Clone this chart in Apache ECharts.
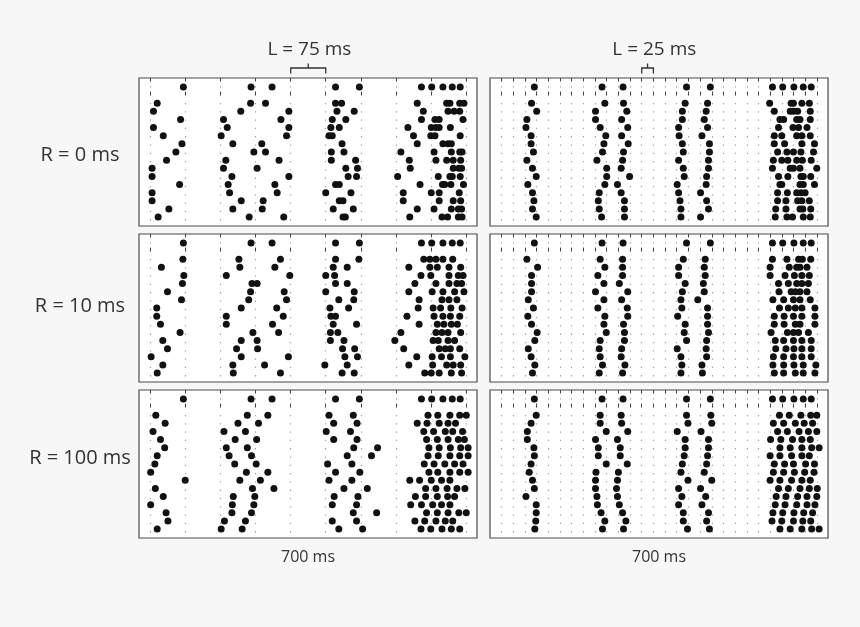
<!DOCTYPE html>
<html>
<head>
<meta charset="utf-8">
<script src="https://cdn.jsdelivr.net/npm/echarts@6/dist/echarts.min.js"></script>
<style>
  html, body { margin: 0; padding: 0; background: #f7f7f7; }
  #chart { width: 860px; height: 627px; }
</style>
</head>
<body>
<div id="chart"></div>
<script>
// ---- data (times in ms) ----
const rowLabels = ['R = 0 ms', 'R = 10 ms', 'R = 100 ms'];
const colTitles = ['L = 75 ms', 'L = 25 ms'];
const binWidths = [75, 25];
const axisName = '700 ms';
const template = [95, 240, 285, 421, 472, 605, 627, 651, 671, 688];

const trialsL75R0 = [
  [39, 239, 271, 421, 434, 596, 659, 666, 687, 696],
  [31, 218, 321, 424, 461, 609, 662, 675, 687],
  [89, 181, 304, 414, 443, 605, 634, 643, 694],
  [31, 189, 321, 411, 429, 576, 626, 636, 643, 667],
  [52, 176, 316, 407, 414, 588, 625, 634, 688],
  [92, 201, 263, 435, 596, 651, 662, 669],
  [79, 246, 271, 412, 439, 561, 632, 669, 687, 692],
  [59, 186, 300, 412, 464, 579, 636, 659, 673, 689],
  [28, 181, 253, 443, 468, 581, 673, 685, 691],
  [28, 199, 321, 448, 466, 554, 641, 666, 671, 688],
  [87, 191, 291, 421, 429, 602, 650, 655, 668, 695],
  [28, 194, 296, 400, 454, 566, 626, 643, 686],
  [28, 219, 266, 429, 437, 566, 643, 673, 689],
  [64, 201, 264, 416, 459, 596, 632, 669, 684, 691],
  [41, 236, 310, 437, 442, 580, 649, 661, 684, 692]
];
const trialsL25R0 = [
  [89, 246, 286, 418, 466, 599, 645, 650, 668, 684],
  [100, 226, 293, 412, 463, 609, 643, 650, 659, 686],
  [79, 226, 282, 412, 459, 621, 629, 657, 664, 686],
  [77, 236, 295, 404, 466, 618, 649, 661, 679],
  [88, 248, 282, 405, 454, 609, 625, 657, 668, 686],
  [88, 244, 296, 412, 470, 609, 631, 668, 695],
  [93, 241, 286, 414, 470, 616, 636, 650, 666, 693],
  [79, 229, 284, 404, 468, 607, 625, 638, 657, 669, 688],
  [91, 250, 281, 414, 468, 605, 643, 650, 664, 700],
  [99, 250, 299, 416, 464, 618, 638, 666, 671, 687],
  [81, 246, 273, 401, 463, 621, 625, 664, 671, 695],
  [91, 234, 281, 404, 451, 616, 637, 657, 666, 675],
  [94, 232, 288, 407, 464, 616, 634, 659, 668, 684],
  [91, 234, 288, 409, 468, 612, 634, 664, 670, 687],
  [99, 239, 288, 409, 451, 611, 636, 648, 671, 686]
];
const trialsL75R10 = [
  [94, 214, 303, 421, 471, 610, 623, 636, 651, 672],
  [48, 216, 291, 416, 446, 578, 623, 639, 664, 689],
  [96, 187, 323, 400, 419, 604, 625, 664, 684, 694],
  [93, 242, 253, 421, 446, 591, 636, 664, 681, 691],
  [61, 239, 311, 400, 461, 578, 628, 651, 676, 696],
  [91, 235, 316, 428, 460, 600, 649, 664, 681],
  [38, 219, 295, 409, 449, 598, 630, 646, 668, 692],
  [38, 187, 309, 411, 421, 574, 632, 651, 667, 687],
  [46, 187, 286, 416, 466, 600, 639, 653, 669, 682],
  [88, 244, 299, 410, 426, 561, 636, 649, 662, 689],
  [51, 219, 253, 410, 439, 548, 630, 641, 662, 676],
  [61, 209, 254, 436, 462, 567, 643, 656, 667, 687],
  [26, 219, 320, 441, 468, 595, 628, 648, 667, 698],
  [51, 201, 269, 398, 446, 578, 629, 659, 673, 689],
  [39, 202, 303, 435, 461, 612, 626, 643, 669, 691]
];
const trialsL25R10 = [
  [79, 236, 284, 414, 461, 605, 636, 661, 669, 687],
  [102, 246, 284, 404, 459, 600, 641, 657, 664, 679],
  [89, 231, 284, 404, 461, 600, 632, 652, 668, 684],
  [89, 244, 277, 418, 457, 618, 639, 657, 668, 682],
  [89, 226, 295, 412, 459, 619, 645, 654, 664, 679],
  [82, 244, 282, 409, 445, 606, 629, 650, 664, 686],
  [93, 231, 294, 411, 466, 620, 639, 654, 668, 696],
  [81, 246, 295, 402, 466, 609, 630, 650, 668, 696],
  [89, 244, 286, 418, 466, 609, 630, 654, 664, 696],
  [101, 249, 288, 416, 468, 602, 637, 650, 661, 682],
  [96, 236, 288, 421, 464, 611, 629, 650, 668, 688],
  [82, 234, 282, 401, 463, 612, 634, 651, 668, 688],
  [88, 236, 281, 409, 464, 607, 629, 650, 668, 688],
  [96, 241, 289, 411, 454, 606, 629, 651, 671, 698],
  [91, 234, 284, 409, 455, 609, 629, 654, 671, 696]
];
const trialsL75R100 = [
  [36, 232, 276, 407, 459, 619, 640, 666, 687, 701],
  [56, 212, 256, 417, 467, 596, 617, 643, 662, 678],
  [30, 182, 228, 401, 453, 610, 631, 656, 672, 693],
  [46, 206, 252, 417, 467, 616, 639, 662, 684, 697],
  [55, 187, 232, 460, 511, 621, 643, 667, 689, 705],
  [39, 193, 241, 446, 498, 619, 641, 666, 687, 705],
  [34, 205, 251, 404, 456, 611, 632, 655, 676, 694],
  [25, 230, 276, 421, 473, 621, 640, 666, 687, 705],
  [99, 216, 260, 407, 456, 580, 601, 626, 648, 666],
  [35, 243, 289, 439, 489, 614, 636, 660, 681, 698],
  [52, 202, 248, 418, 469, 592, 614, 639, 661, 676],
  [25, 200, 246, 414, 466, 582, 605, 629, 648, 666],
  [58, 199, 241, 459, 509, 616, 639, 662, 685, 701],
  [62, 183, 228, 414, 466, 591, 612, 636, 656, 672],
  [39, 176, 221, 428, 479, 604, 625, 649, 669, 687]
];
const trialsL25R100 = [
  [99, 236, 281, 421, 473, 620, 641, 666, 687, 700],
  [88, 236, 282, 424, 475, 607, 629, 654, 673, 691],
  [80, 249, 295, 401, 452, 616, 637, 662, 682, 700],
  [80, 226, 273, 418, 468, 601, 623, 648, 668, 686],
  [94, 232, 279, 418, 468, 621, 643, 668, 689, 705],
  [95, 232, 279, 416, 466, 600, 621, 646, 668, 684],
  [88, 249, 294, 412, 464, 609, 631, 650, 676, 695],
  [84, 227, 275, 409, 459, 607, 629, 652, 674, 694],
  [91, 226, 273, 424, 475, 600, 621, 646, 668, 686],
  [95, 226, 271, 404, 451, 618, 639, 664, 684, 701],
  [77, 229, 273, 411, 462, 613, 634, 659, 679, 700],
  [99, 230, 277, 404, 454, 611, 632, 657, 679, 696],
  [99, 238, 284, 414, 468, 606, 627, 651, 672, 691],
  [98, 246, 291, 414, 464, 604, 625, 650, 670, 687],
  [96, 241, 286, 423, 470, 621, 643, 668, 689, 705]
];

const panels = [
  trialsL75R0, trialsL25R0,
  trialsL75R10, trialsL25R10,
  trialsL75R100, trialsL25R100
];

// ---- layout ----
const X_MIN = 0, X_MAX = 724;
const Y_MIN = -2.1, Y_MAX = 16.1;
const colLeft = [139, 490];
const rowTop = [78, 234, 390];
const gridW = 338, gridH = 148;
const textColor = '#333';

const grids = [], xAxes = [], yAxes = [], series = [];
panels.forEach((trials, p) => {
  const r = Math.floor(p / 2), c = p % 2;
  grids.push({
    left: colLeft[c], top: rowTop[r], width: gridW, height: gridH,
    show: true, backgroundColor: '#ffffff', borderColor: '#4a4a4a', borderWidth: 1.2
  });
  const ticks = [];
  for (let t = 25; t <= 700; t += binWidths[c]) ticks.push(t);
  const common = {
    type: 'value', gridIndex: p, min: X_MIN, max: X_MAX,
    axisLine: { show: false },
    axisLabel: { show: false },
    axisTick: { show: true, inside: true, length: 3.5, customValues: ticks,
                lineStyle: { color: '#444', width: 1 } }
  };
  xAxes.push(Object.assign({}, common, {
    position: 'bottom',
    splitLine: { show: true, lineStyle: { color: '#a0a0a0', width: 1.2, type: [1.3, 7] } },
    name: r === 2 ? axisName : '',
    nameLocation: 'middle', nameGap: 11,
    nameTextStyle: { fontFamily: 'Open Sans', fontSize: 16, color: textColor }
  }));
  xAxes.push(Object.assign({}, common, {
    position: 'top', splitLine: { show: false }
  }));
  yAxes.push({
    type: 'value', gridIndex: p, min: Y_MIN, max: Y_MAX, inverse: true,
    axisLine: { show: false }, axisTick: { show: false },
    axisLabel: { show: false }, splitLine: { show: false }
  });
  const data = [];
  template.forEach(t => data.push([t, -1]));
  trials.forEach((row, i) => row.forEach(t => data.push([t, i + 1])));
  series.push({
    type: 'scatter', xAxisIndex: 2 * p, yAxisIndex: p,
    symbol: 'circle', symbolSize: 7, silent: true,
    itemStyle: { color: '#111111', opacity: 1 },
    data: data
  });
});

const chart = echarts.init(document.getElementById('chart'), null, { renderer: 'canvas' });
chart.setOption({
  backgroundColor: '#f7f7f7',
  animation: false,
  grid: grids, xAxis: xAxes, yAxis: yAxes, series: series
});

// ---- annotations: row labels, column titles with bin brackets ----
const graphics = [];
const rowLabelY = [155, 306, 458];
rowLabels.forEach((txt, r) => {
  graphics.push({
    type: 'text', silent: true,
    style: { text: txt, x: 80, y: rowLabelY[r], align: 'center', verticalAlign: 'middle',
             font: '20px "Open Sans"', fill: textColor }
  });
});
const titleCenters = [365, 352];
colTitles.forEach((txt, c) => {
  const g = c;
  const p1 = chart.convertToPixel({ gridIndex: g }, [325, 0]);
  const p2 = chart.convertToPixel({ gridIndex: g }, [325 + binWidths[c], 0]);
  const pt = chart.convertToPixel({ gridIndex: g }, [titleCenters[c], 0]);
  const xm = (p1[0] + p2[0]) / 2;
  graphics.push({
    type: 'text', silent: true,
    style: { text: txt, x: pt[0], y: 50, align: 'center', verticalAlign: 'middle',
             font: '19px "Open Sans"', fill: textColor }
  });
  graphics.push({
    type: 'polyline', silent: true,
    shape: { points: [[p1[0], 73.5], [p1[0], 68], [p2[0], 68], [p2[0], 73.5]] },
    style: { stroke: '#333', lineWidth: 1.3, fill: null }
  });
  graphics.push({
    type: 'line', silent: true,
    shape: { x1: xm, y1: 68, x2: xm, y2: 63.5 },
    style: { stroke: '#333', lineWidth: 1.3 }
  });
});
chart.setOption({ graphic: graphics });
</script>
</body>
</html>
